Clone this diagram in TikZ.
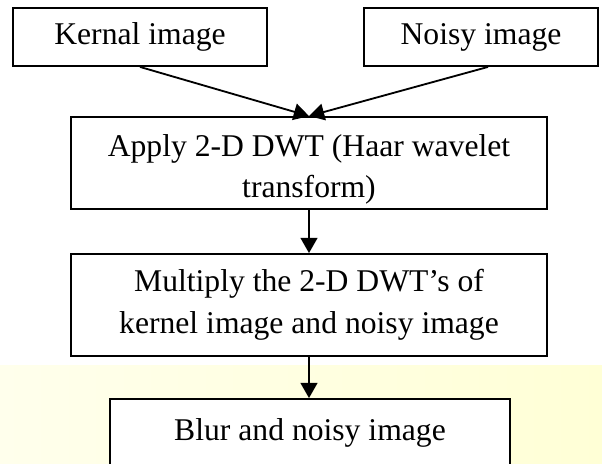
\documentclass[tikz,border=0pt]{standalone}
\usepackage{fontspec}
\setmainfont{Liberation Serif}
\usetikzlibrary{arrows.meta,positioning}
\definecolor{hazeleft}{HTML}{FFFFEC}
\definecolor{hazeright}{HTML}{FFFFD6}

\begin{document}
\begin{tikzpicture}[
  x=0.025cm, y=-0.025cm,
  font=\fontsize{22.5}{29.5}\selectfont,
  box/.style={draw, line width=1.3pt, fill=white, align=center, inner sep=0pt},
  line/.style={-{Triangle[length=3.8mm, width=4.2mm]}, line width=1.3pt}
]
\useasboundingbox (0,0) rectangle (602,463);
% pale band behind the last step
\fill[left color=hazeleft, right color=hazeright] (0,365) rectangle (602,463);

\node[box, minimum width=63.6mm, minimum height=14.5mm] (kernal) at (140,37) {Kernal image};
\node[box, minimum width=58.5mm, minimum height=14.5mm] (noisy) at (481,37) {Noisy image};
\node[box, minimum width=119mm, minimum height=23mm] (dwt) at (309,163)
  {\rule{0pt}{25pt}Apply 2-D DWT (Haar wavelet\\transform)};
\node[box, minimum width=119mm, minimum height=25.5mm] (mult) at (309,305)
  {Multiply the 2-D DWT’s of\\kernel image and noisy image};
\node[box, minimum width=100mm, minimum height=16.75mm] (blur) at (310,432.5) {Blur and noisy image};

\draw[line] (kernal.south) -- (dwt.north);
\draw[line] ([xshift=1.75mm]noisy.south) -- (dwt.north);
\draw[line] (dwt.south) -- (mult.north);
\draw[line] (mult.south) -- (mult.south |- blur.north);
\end{tikzpicture}
\end{document}
